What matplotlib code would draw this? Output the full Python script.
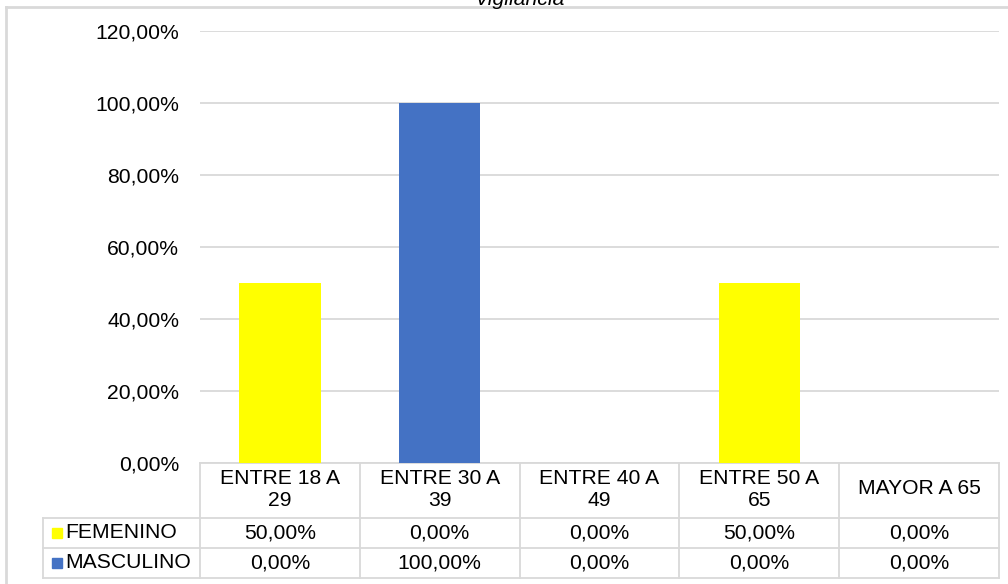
import matplotlib.pyplot as plt
import matplotlib.transforms as mtransforms
from matplotlib.lines import Line2D
from matplotlib.patches import Rectangle

# data
categorias = ["ENTRE 18 A\n29", "ENTRE 30 A\n39", "ENTRE 40 A\n49", "ENTRE 50 A\n65", "MAYOR A 65"]
femenino = [50.0, 0.0, 0.0, 50.0, 0.0]
masculino = [0.0, 100.0, 0.0, 0.0, 0.0]
series = ["FEMENINO", "MASCULINO"]
colores = ["#ffff00", "#4472c4"]
yticks = [0, 20, 40, 60, 80, 100, 120]
ytick_labels = ["0,00%", "20,00%", "40,00%", "60,00%", "80,00%", "100,00%", "120,00%"]


def fmt(v):
    return ("%.2f" % v).replace(".", ",") + "%"


plt.rcParams['font.family'] = ['Liberation Sans', 'DejaVu Sans']
FS = 15.2
W, H = 1008, 584
GRIS = "#d9d9d9"

fig = plt.figure(figsize=(W / 100, H / 100), dpi=100)
ax = fig.add_axes([200 / W, 121 / H, 799 / W, 432 / H])

x = list(range(len(categorias)))
ax.bar(x, femenino, width=0.51, color=colores[0], zorder=3)
ax.bar(x, masculino, width=0.51, bottom=femenino, color=colores[1], zorder=3)

ax.set_xlim(-0.5, len(categorias) - 0.5)
ax.set_ylim(0, 120)
ax.set_yticks(yticks)
ax.set_yticklabels(ytick_labels, fontsize=FS, color="#000000")
ax.tick_params(axis="y", length=0, pad=15)
ax.set_xticks([])
ax.grid(axis="y", color=GRIS, linewidth=1.3, zorder=0)
for s in ax.spines.values():
    s.set_visible(False)

# data table below the axis
tr = mtransforms.blended_transform_factory(ax.transData, ax.transAxes)
ah = 432.0
def fy(px):
    return -px / ah

edges = [0, 55, 85, 115]
lk = dict(color=GRIS, linewidth=1.3, transform=tr, clip_on=False)

# horizontal lines
ax.add_line(Line2D([-0.5, len(categorias) - 0.5], [fy(0), fy(0)], **lk))
for e in edges[1:]:
    ax.add_line(Line2D([-1.48, len(categorias) - 0.5], [fy(e), fy(e)], **lk))
# vertical lines
for i in range(len(categorias) + 1):
    ax.add_line(Line2D([i - 0.5, i - 0.5], [fy(0), fy(edges[-1])], **lk))
ax.add_line(Line2D([-1.48, -1.48], [fy(edges[1]), fy(edges[-1])], **lk))

for i, c in enumerate(categorias):
    ax.text(i, fy(26), c, ha="center", va="center", fontsize=FS,
            linespacing=1.2, transform=tr, clip_on=False)
    ax.text(i, fy(70), fmt(femenino[i]), ha="center", va="center",
            fontsize=FS, transform=tr, clip_on=False)
    ax.text(i, fy(100), fmt(masculino[i]), ha="center", va="center",
            fontsize=FS, transform=tr, clip_on=False)

for j, (nombre, col) in enumerate(zip(series, colores)):
    yc = 463 + 70 + 30 * j
    fig.patches.append(Rectangle((52 / W, 1 - (yc + 5) / H), 10 / W, 10 / H,
                                 color=col, transform=fig.transFigure))
    fig.text(65 / W, 1 - yc / H, nombre, ha="left", va="center", fontsize=FS)

# chart area border and cut-off title
fig.add_artist(Line2D([6 / W, 1], [1 - 7 / H, 1 - 7 / H], color=GRIS,
                      linewidth=2, transform=fig.transFigure))
fig.add_artist(Line2D([6 / W, 6 / W], [0, 1 - 7 / H], color=GRIS,
                      linewidth=2, transform=fig.transFigure))
fig.text(519 / W, 1 - 5 / H, "Vigilancia", ha="center", va="baseline",
         fontsize=FS, style="italic")

fig.savefig("out.png", dpi=100)
